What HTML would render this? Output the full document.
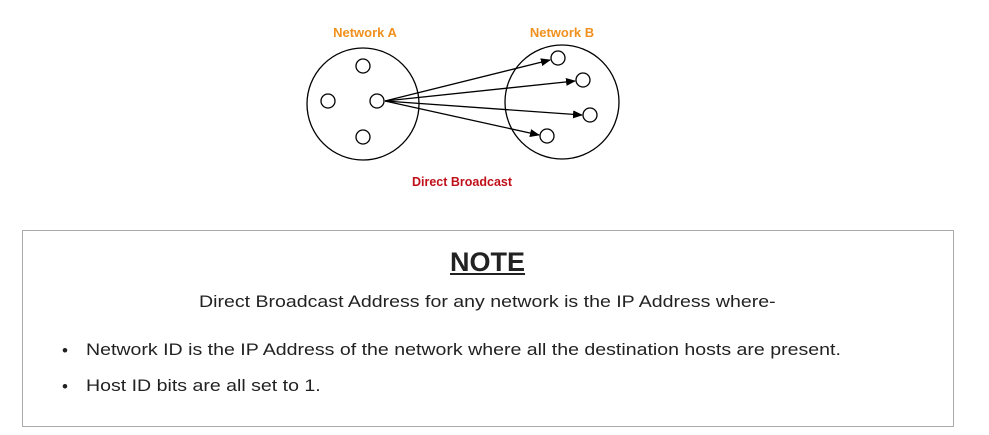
<!DOCTYPE html>
<html><head><style>
body{margin:0;width:989px;height:435px;background:#fff;position:relative;overflow:hidden;font-family:"Liberation Sans",Arial,sans-serif}
.box{position:absolute;left:22px;top:230px;width:932px;height:197px;border:1px solid #aaa;box-sizing:border-box}
.t{position:absolute;white-space:nowrap;color:#222;transform-origin:0 0}
</style></head><body>
<svg width="989" height="220" style="position:absolute;left:0;top:0">
<defs><marker id="a" markerWidth="10" markerHeight="8" refX="9" refY="4" orient="auto" markerUnits="userSpaceOnUse"><path d="M0,0 L10,4 L0,8 z" fill="#000"/></marker></defs>
<text x="365" y="37" font-size="13" font-weight="bold" fill="#f0901e" text-anchor="middle" font-family="Liberation Sans">Network A</text>
<text x="562" y="37" font-size="13" font-weight="bold" fill="#f0901e" text-anchor="middle" font-family="Liberation Sans">Network B</text>
<g fill="none" stroke="#000" stroke-width="1.3">
<circle cx="363" cy="104" r="56"/>
<circle cx="562" cy="102" r="57"/>
<circle cx="363" cy="66" r="7"/><circle cx="328" cy="101" r="7"/><circle cx="377" cy="101" r="7"/><circle cx="363" cy="137" r="7"/>
<circle cx="558" cy="58" r="7"/><circle cx="583" cy="80" r="7"/><circle cx="590" cy="115" r="7"/><circle cx="547" cy="136" r="7"/>
<line x1="385" y1="101" x2="550" y2="60" marker-end="url(#a)"/>
<line x1="385" y1="101" x2="575" y2="81" marker-end="url(#a)"/>
<line x1="385" y1="101" x2="582" y2="115" marker-end="url(#a)"/>
<line x1="385" y1="101" x2="539" y2="135" marker-end="url(#a)"/>
</g>
<text x="462" y="186" font-size="12.5" font-weight="bold" fill="#c0101a" text-anchor="middle" font-family="Liberation Sans">Direct Broadcast</text>
</svg>
<div class="box"></div>
<div class="t" style="left:450px;top:247px;font-size:27px;font-weight:bold;text-decoration:underline">NOTE</div>
<div class="t" style="left:199px;top:292px;font-size:17px;transform:scaleX(1.15)">Direct Broadcast Address for any network is the IP Address where-</div>
<div class="t" style="left:62px;top:341px;font-size:17px">•</div>
<div class="t" style="left:86px;top:340px;font-size:17px;transform:scaleX(1.15)">Network ID is the IP Address of the network where all the destination hosts are present.</div>
<div class="t" style="left:62px;top:377px;font-size:17px">•</div>
<div class="t" style="left:86px;top:376px;font-size:17px;transform:scaleX(1.15)">Host ID bits are all set to 1.</div>
</body></html>
